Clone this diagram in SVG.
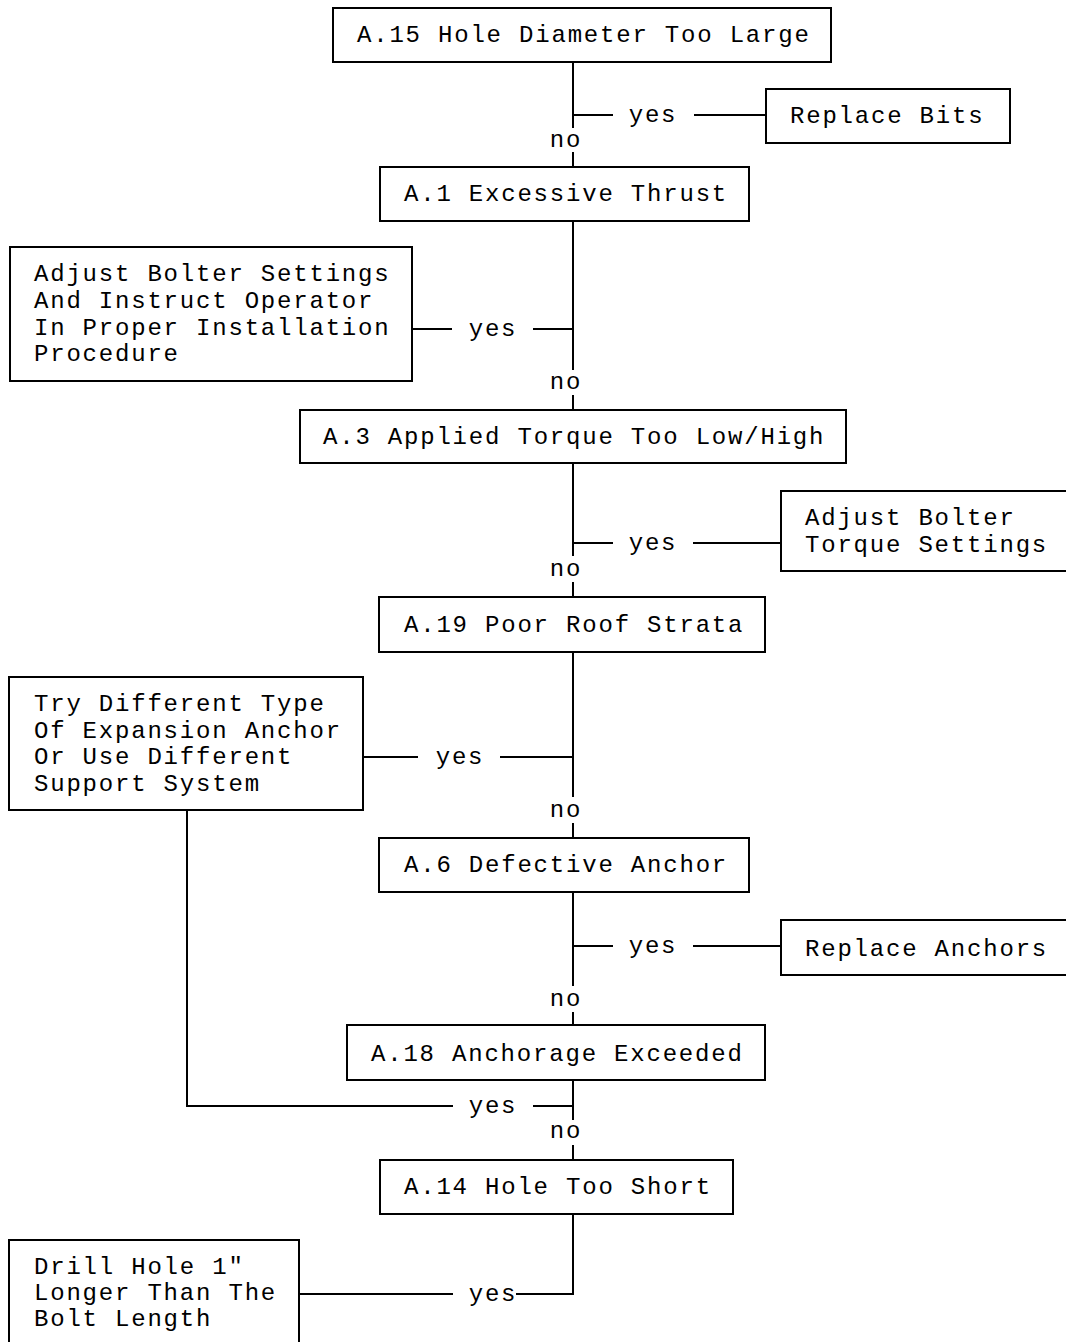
<svg xmlns="http://www.w3.org/2000/svg" width="1066" height="1342" viewBox="0 0 1066 1342">
<style>
rect.box{fill:#fff;stroke:#000;stroke-width:2}
text{font-family:"Liberation Mono","Courier New",monospace;font-size:24px;letter-spacing:1.8px;fill:#000}
.lbl{text-anchor:middle}
#connectors path{fill:none;stroke:#000;stroke-width:2}
</style>
<rect width="1066" height="1342" fill="#fff"/>
<g id="connectors">
<path d="M573 62V128M573 115H613M694 115H766M573 152V167"/>
<path d="M573 221V370M412 329H452M533 329H573M573 395V410"/>
<path d="M573 463V556M573 543H613M693 543H781M573 582V597"/>
<path d="M573 652V797M363 757H418M500 757H573M573 823V838"/>
<path d="M573 892V986M573 946H613M693 946H781M573 1012V1025"/>
<path d="M573 1080V1120M533 1106H573M453 1106H187V810M573 1145V1160"/>
<path d="M573 1214V1294H516M453 1294H300"/>
<text class="lbl" x="653" y="122">yes</text>
<text class="lbl" x="566" y="147">no</text>
<text class="lbl" x="493" y="336">yes</text>
<text class="lbl" x="566" y="389">no</text>
<text class="lbl" x="653" y="550">yes</text>
<text class="lbl" x="566" y="576">no</text>
<text class="lbl" x="460" y="764">yes</text>
<text class="lbl" x="566" y="817">no</text>
<text class="lbl" x="653" y="953">yes</text>
<text class="lbl" x="566" y="1006">no</text>
<text class="lbl" x="493" y="1113">yes</text>
<text class="lbl" x="566" y="1138">no</text>
<text class="lbl" x="493" y="1301">yes</text>
</g>
<g id="a15"><rect class="box" x="333" y="8" width="498" height="54"/><text x="357" y="42">A.15 Hole Diameter Too Large</text></g>
<g id="replace-bits"><rect class="box" x="766" y="89" width="244" height="54"/><text x="790" y="123">Replace Bits</text></g>
<g id="a1"><rect class="box" x="380" y="167" width="369" height="54"/><text x="404" y="201">A.1 Excessive Thrust</text></g>
<g id="adjust-settings"><rect class="box" x="10" y="247" width="402" height="134"/><text x="34" y="281">Adjust Bolter Settings</text><text x="34" y="308">And Instruct Operator</text><text x="34" y="335">In Proper Installation</text><text x="34" y="361">Procedure</text></g>
<g id="a3"><rect class="box" x="300" y="410" width="546" height="53"/><text x="323" y="444">A.3 Applied Torque Too Low/High</text></g>
<g id="adjust-torque"><rect class="box" x="781" y="491" width="290" height="80"/><text x="805" y="525">Adjust Bolter</text><text x="805" y="552">Torque Settings</text></g>
<g id="a19"><rect class="box" x="379" y="597" width="386" height="55"/><text x="404" y="632">A.19 Poor Roof Strata</text></g>
<g id="try-different"><rect class="box" x="9" y="677" width="354" height="133"/><text x="34" y="711">Try Different Type</text><text x="34" y="738">Of Expansion Anchor</text><text x="34" y="764">Or Use Different</text><text x="34" y="791">Support System</text></g>
<g id="a6"><rect class="box" x="379" y="838" width="370" height="54"/><text x="404" y="872">A.6 Defective Anchor</text></g>
<g id="replace-anchors"><rect class="box" x="781" y="920" width="290" height="55"/><text x="805" y="956">Replace Anchors</text></g>
<g id="a18"><rect class="box" x="347" y="1025" width="418" height="55"/><text x="371" y="1061">A.18 Anchorage Exceeded</text></g>
<g id="a14"><rect class="box" x="380" y="1160" width="353" height="54"/><text x="404" y="1194">A.14 Hole Too Short</text></g>
<g id="drill-hole"><rect class="box" x="9" y="1240" width="290" height="110"/><text x="34" y="1274">Drill Hole 1"</text><text x="34" y="1300">Longer Than The</text><text x="34" y="1326">Bolt Length</text></g>
</svg>
